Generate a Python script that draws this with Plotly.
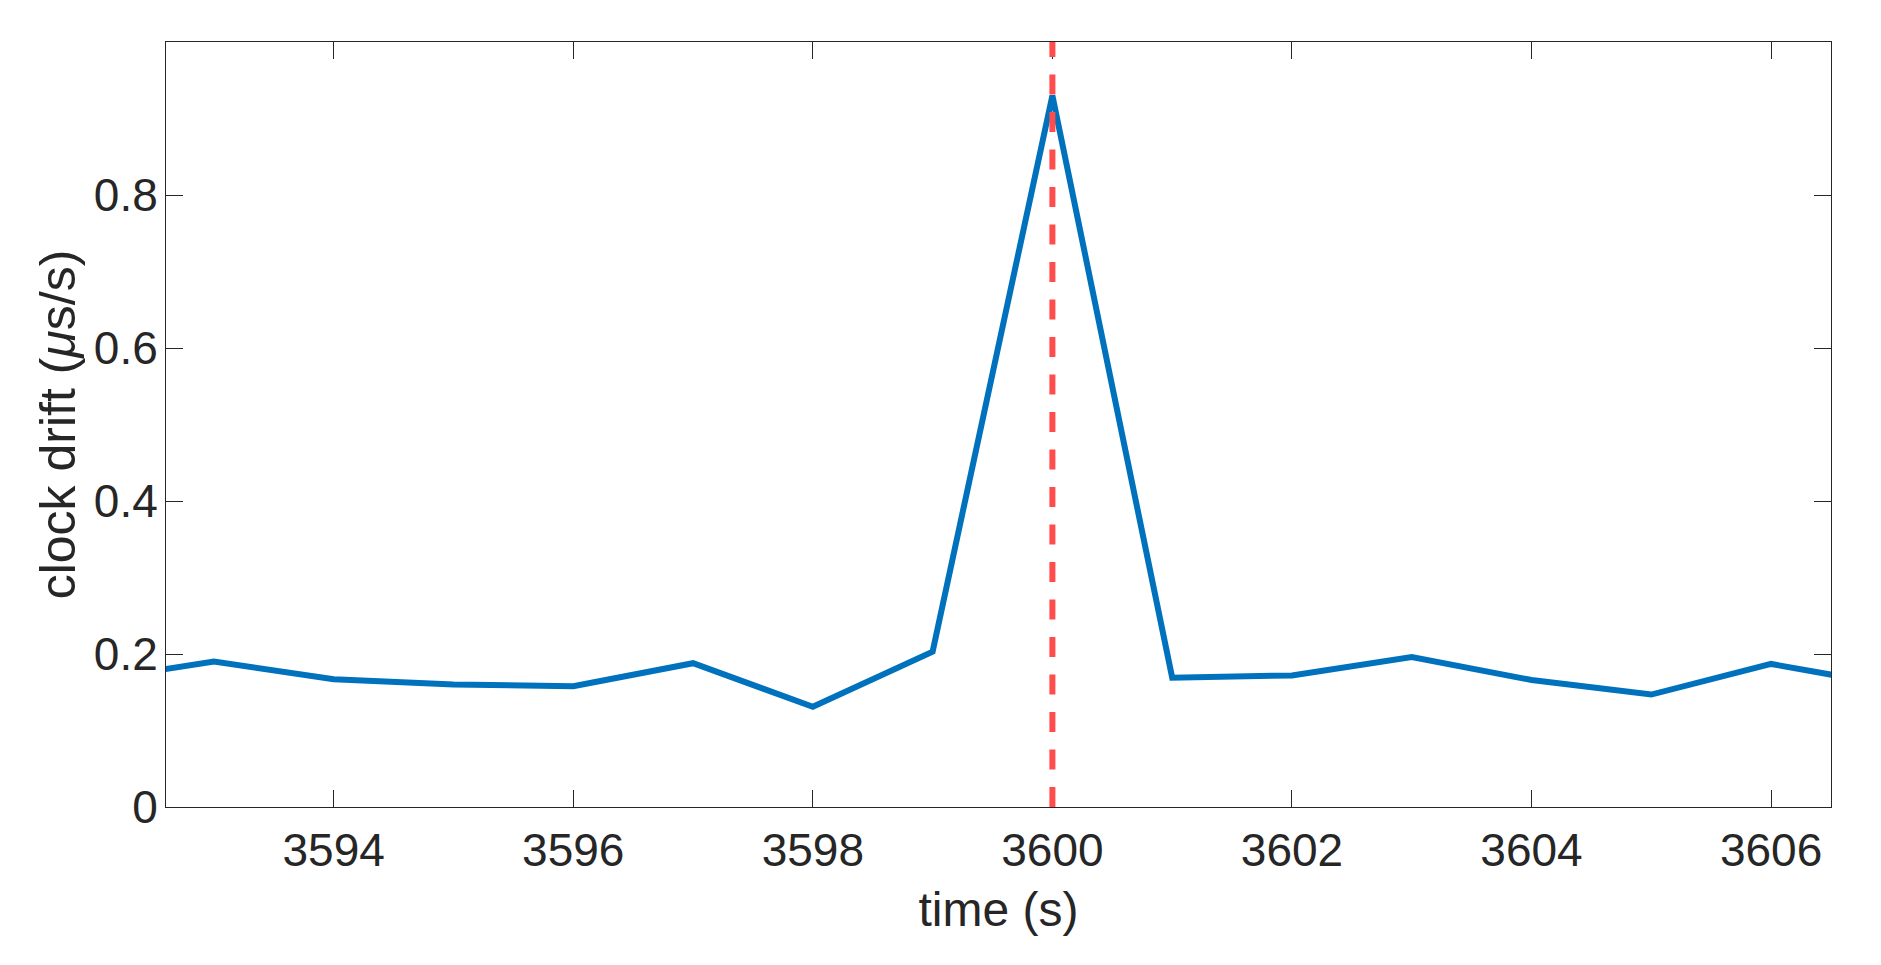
import plotly.graph_objects as go

# clock drift samples, one per second
time_s = [3592, 3593, 3594, 3595, 3596, 3597, 3598, 3599, 3600,
          3601, 3602, 3603, 3604, 3605, 3606, 3607]
drift = [0.166, 0.190, 0.167, 0.160, 0.158, 0.188, 0.131, 0.203, 0.930,
         0.169, 0.172, 0.196, 0.166, 0.147, 0.187, 0.159]

event_time = 3600
x_ticks = [3594, 3596, 3598, 3600, 3602, 3604, 3606]
y_ticks = [0, 0.2, 0.4, 0.6, 0.8]

fig = go.Figure()
fig.add_trace(go.Scatter(x=time_s, y=drift, mode='lines',
                         line=dict(color='#0072BD', width=6), showlegend=False))

# event marker
fig.add_shape(type='line', xref='x', yref='paper', x0=event_time, x1=event_time,
              y0=0, y1=1, line=dict(color='#FF4D4D', width=6, dash='20px,17.5px'),
              layer='above')

axis_font = dict(family='Liberation Sans, Arial, sans-serif', size=46, color='#262626')
title_font = dict(family='Liberation Sans, Arial, sans-serif', size=48, color='#262626')

# page body adds an 8px offset, so margins are trimmed to compensate
fig.update_layout(
    width=1881, height=965,
    margin=dict(l=158, r=58, t=34, b=166),
    plot_bgcolor='white', paper_bgcolor='white',
    xaxis=dict(range=[3592.6, 3606.5], tickvals=x_ticks, ticks='inside',
               ticklen=17, tickwidth=1, tickcolor='#262626', showline=True,
               linecolor='#262626', linewidth=1, mirror='ticks', showgrid=False,
               zeroline=False, tickfont=axis_font, ticklabelstandoff=3,
               title=dict(text='time (s)', font=title_font, standoff=17)),
    yaxis=dict(range=[0, 1.0], tickvals=y_ticks, ticktext=['0', '0.2', '0.4', '0.6', '0.8'],
               ticks='inside', ticklen=17, tickwidth=1, tickcolor='#262626',
               showline=True, linecolor='#262626', linewidth=1, mirror='ticks',
               showgrid=False, zeroline=False, tickfont=axis_font, ticklabelstandoff=-2,
               title=dict(text='clock drift (<i>μ</i>s/s)',
                          font=dict(title_font, size=50), standoff=2)),
)

fig.write_html("out.html")
